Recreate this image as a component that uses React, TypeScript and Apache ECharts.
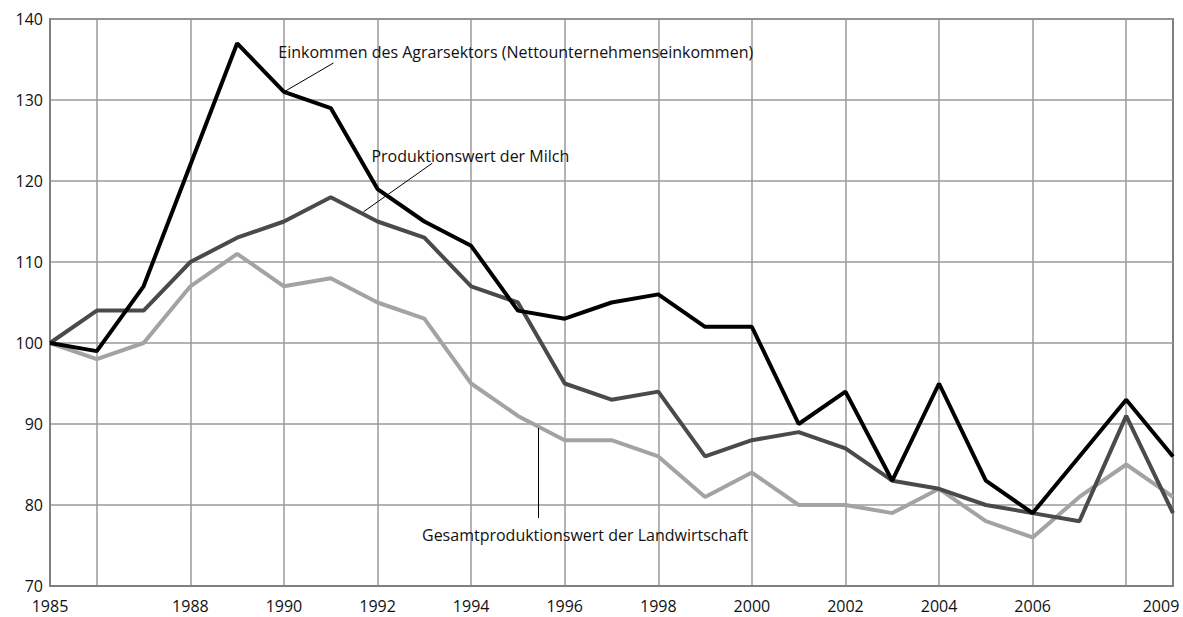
import React, { useEffect, useRef } from "react";
import * as echarts from "echarts";

const years = [
  "1985", "1986", "1987", "1988", "1989", "1990", "1991", "1992", "1993",
  "1994", "1995", "1996", "1997", "1998", "1999", "2000", "2001", "2002",
  "2003", "2004", "2005", "2006", "2007", "2008", "2009",
];

const einkommen = [
  100, 99, 107, 122, 137, 131, 129, 119, 115, 112, 104, 103, 105, 106, 102,
  102, 90, 94, 83, 95, 83, 79, 86, 93, 86,
];

const milch = [
  100, 104, 104, 110, 113, 115, 118, 115, 113, 107, 105, 95, 93, 94, 86, 88,
  89, 87, 83, 82, 80, 79, 78, 91, 79,
];

const gesamt = [
  100, 98, 100, 107, 111, 107, 108, 105, 103, 95, 91, 88, 88, 86, 81, 84, 80,
  80, 79, 82, 78, 76, 81, 85, 81,
];

const yTicks = { min: 70, max: 140, interval: 10 };

const gridLineYears = ["1986", "1988", "1990", "1992", "1994", "1996", "1998", "2000", "2002", "2004", "2006", "2008"];
const labelYears = ["1985", "1988", "1990", "1992", "1994", "1996", "1998", "2000", "2002", "2004", "2006", "2009"];

const annotations = [
  {
    text: "Einkommen des Agrarsektors (Nettounternehmenseinkommen)",
    at: [1989.88, 135.96],
    from: [1991.06, 134.57],
    to: [1990, 131],
  },
  {
    text: "Produktionswert der Milch",
    at: [1991.87, 123.1],
    from: [1993.17, 122.2],
    to: [1991.7, 116.2],
  },
  {
    text: "Gesamtproduktionswert der Landwirtschaft",
    at: [1992.95, 76.3],
    from: [1995.44, 89.5],
    to: [1995.44, 78.4],
  },
];

const FONT = "'Open Sans', 'DejaVu Sans', sans-serif";
const TEXT = "#111111";

export default function App() {
  const ref = useRef<HTMLDivElement>(null);

  useEffect(() => {
    if (!ref.current) return;
    const chart = echarts.init(ref.current, undefined, { renderer: "svg" });
    chart.setOption({
      animation: false,
      backgroundColor: "#ffffff",
      grid: {
        left: 50,
        right: 10,
        top: 19,
        bottom: 31,
        show: true,
        borderColor: "#808080",
        borderWidth: 2,
        backgroundColor: "transparent",
      },
      xAxis: [
        {
          type: "category",
          data: years,
          boundaryGap: false,
          axisLine: { show: true, lineStyle: { color: "#808080", width: 2 } },
          axisTick: { show: false },
          axisLabel: {
            interval: (i: number, v: string) => labelYears.includes(v),
            color: TEXT,
            fontSize: 16,
            fontFamily: FONT,
            margin: 12,
            formatter: (v: string) => (v === "2009" ? "{last|" + v + "}" : v),
            rich: {
              last: {
                fontSize: 16,
                fontFamily: FONT,
                color: TEXT,
                padding: [0, 24, 0, 0],
              },
            },
          },
          splitLine: {
            show: true,
            interval: (i: number, v: string) => gridLineYears.includes(v),
            lineStyle: { color: "#9a9a9a", width: 1.5 },
          },
        },
        {
          type: "value",
          min: 1985,
          max: 2009,
          show: false,
          splitLine: { show: false },
        },
      ],
      yAxis: {
        type: "value",
        min: yTicks.min,
        max: yTicks.max,
        interval: yTicks.interval,
        axisLine: { show: true, lineStyle: { color: "#808080", width: 2 } },
        axisTick: { show: false },
        axisLabel: {
          color: TEXT,
          fontSize: 16,
          fontFamily: FONT,
          margin: 7,
        },
        splitLine: { show: true, lineStyle: { color: "#9a9a9a", width: 1.5 } },
      },
      series: [
        {
          name: "Gesamtproduktionswert der Landwirtschaft",
          type: "line",
          data: gesamt,
          symbol: "none",
          lineStyle: { color: "#a3a3a3", width: 4 },
          z: 2,
        },
        {
          name: "Produktionswert der Milch",
          type: "line",
          data: milch,
          symbol: "none",
          lineStyle: { color: "#4a4a4a", width: 4 },
          z: 3,
        },
        {
          name: "Einkommen des Agrarsektors (Nettounternehmenseinkommen)",
          type: "line",
          data: einkommen,
          symbol: "none",
          lineStyle: { color: "#000000", width: 4 },
          z: 4,
        },
      ],
    });

    const conv = (p: number[]) =>
      chart.convertToPixel({ xAxisIndex: 1, yAxisIndex: 0 }, p) as number[];

    const graphics: any[] = [];
    annotations.forEach((a) => {
      const t = conv(a.at);
      const f = conv(a.from);
      const e = conv(a.to);
      graphics.push({
        type: "line",
        shape: { x1: f[0], y1: f[1], x2: e[0], y2: e[1] },
        style: { stroke: "#000000", lineWidth: 1 },
        z: 10,
      });
      graphics.push({
        type: "text",
        x: t[0],
        y: t[1],
        style: {
          text: a.text,
          fill: TEXT,
          fontSize: 16,
          fontFamily: FONT,
          align: "left",
          verticalAlign: "middle",
          textAlign: "left",
          textVerticalAlign: "middle",
        },
        z: 11,
      });
    });
    chart.setOption({ graphic: graphics });

    return () => chart.dispose();
  }, []);

  return (
    <div
      ref={ref}
      style={{ position: "fixed", left: 0, top: 0, width: 1183, height: 617, background: "#fff" }}
    />
  );
}
